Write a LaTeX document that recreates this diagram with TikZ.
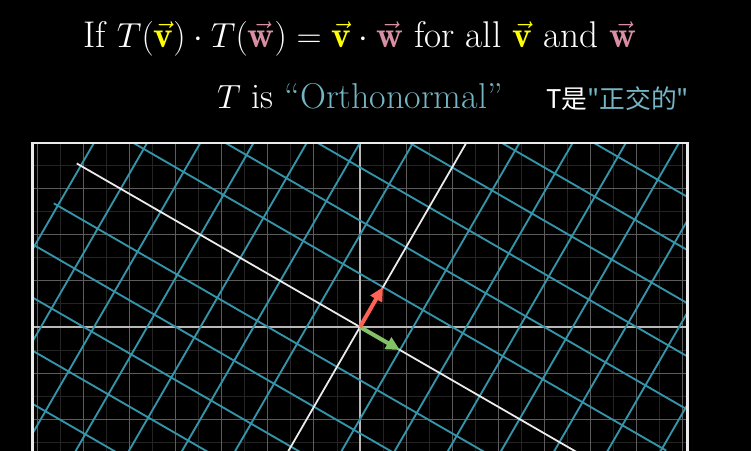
\documentclass[tikz,border=0pt]{standalone}
\usepackage{fontspec}
\usepackage{graphicx}
\newfontfamily\cjk{Noto Sans CJK SC}
\usetikzlibrary{arrows.meta}
\definecolor{vyellow}{HTML}{FFFF00}
\definecolor{wpink}{HTML}{D98FA3}
\definecolor{tealtxt}{HTML}{74B6C4}
\definecolor{gridblue}{HTML}{3494A9}
\definecolor{vgreen}{HTML}{83C167}
\definecolor{vred}{HTML}{FC6255}
\tikzset{
  minorgrid/.style={draw=white!14!black, line width=0.55pt},
  majorgrid/.style={draw=white!36!black, line width=0.6pt},
  bgaxis/.style={draw=white!72!black, line width=0.9pt},
  tgrid/.style={draw=gridblue, line width=1.15pt},
  taxis/.style={draw=white!92!black, line width=1.1pt},
  vecarrow/.style={line width=2.5pt, -{Triangle[length=0.3cm, width=0.28cm]}},
  frameline/.style={draw=white!92!black, line width=1.3pt},
  bigtext/.style={text=white, font=\fontsize{22.2}{26}\selectfont},
  cjktext/.style={text=white, font=\cjk\fontsize{15.9}{19}\selectfont}
}
\newcommand{\vv}{\textcolor{vyellow}{\vec{\mathbf{v}}}}
\newcommand{\vw}{\textcolor{wpink}{\vec{\mathbf{w}}}}
\begin{document}
\begin{tikzpicture}
\fill[black] (-7.816,-2.692) rectangle (8.489,7.099);
\useasboundingbox (-7.816,-2.692) rectangle (8.489,7.099);
\coordinate (O) at (0,0);
\begin{scope}
  \clip (-7.11,-4) rectangle (7.11,4);
  % background plane
  \foreach \x in {-7.5,-6.5,...,7.5} \draw[minorgrid] (\x,-4) -- (\x,4);
  \foreach \y in {-3.5,-2.5,...,3.5} \draw[minorgrid] (-7.11,\y) -- (7.11,\y);
  \foreach \x in {-7,...,-1,1,2,...,7} \draw[majorgrid] (\x,-4) -- (\x,4);
  \foreach \y in {-3,...,-1,1,2,3} \draw[majorgrid] (-7.11,\y) -- (7.11,\y);
  \draw[bgaxis] (0,-4) -- (0,4);
  \draw[bgaxis] (-7.11,0) -- (7.11,0);
  % transformed plane
  \begin{scope}[rotate=-30]
    \foreach \k in {-7,...,-1,1,2,...,7} {
      \draw[tgrid] (\k,-7.1) -- (\k,7.1);
      \draw[tgrid] (-7.1,\k) -- (7.1,\k);
    }
    \draw[taxis] (-7.1,0) -- (7.1,0);
    \draw[taxis] (0,-7.1) -- (0,7.1);
    \coordinate (ihat) at (1,0);
    \coordinate (jhat) at (0,1);
  \end{scope}
  \draw[vecarrow, draw=vgreen, fill=vgreen] (O) -- (ihat);
  \draw[vecarrow, draw=vred, fill=vred] (O) -- (jhat);
\end{scope}
\draw[frameline] (-7.11,-4) rectangle (7.11,4);
% texts
\node[bigtext, anchor=base] (title) at (0,6.06)
  {\scalebox{1.035}{If $T(\vv)\cdot T(\vw) = \vv\cdot\vw$ for all $\vv$ and $\vw$}};
\node[bigtext, anchor=base] (sub) at (0,4.75)
  {$T$ is \textcolor{tealtxt}{``Orthonormal''}};
\node[cjktext, anchor=base west] (cn) at (3.92,4.75)
  {T是\textcolor{tealtxt}{"正交的"}};
\end{tikzpicture}
\end{document}
